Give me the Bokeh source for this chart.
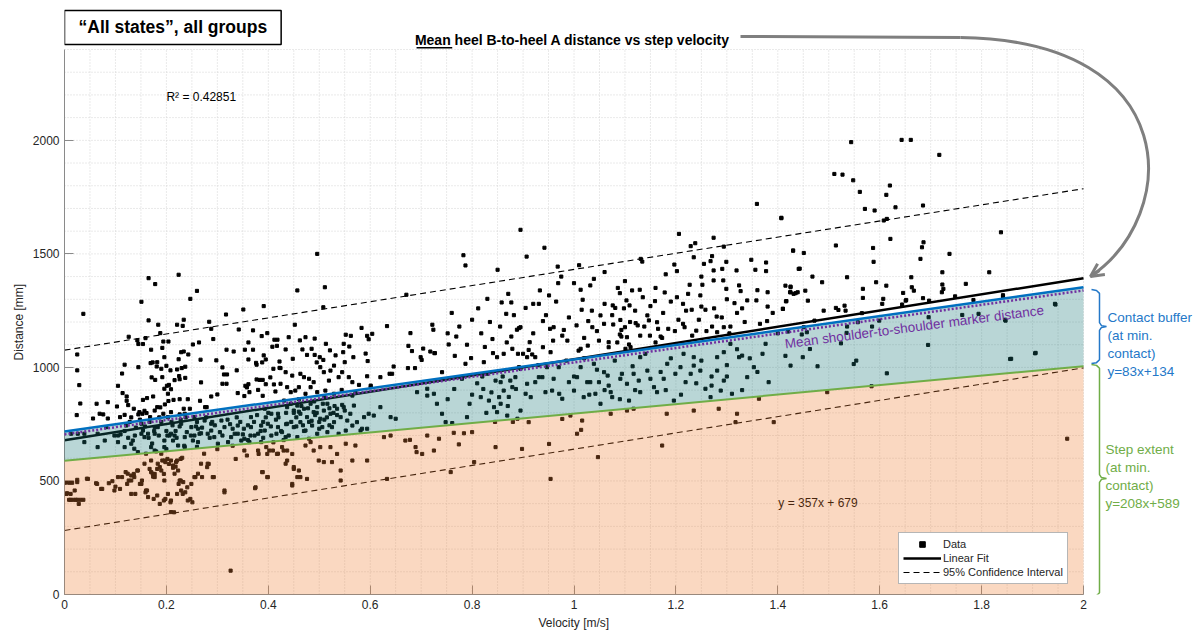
import numpy as np
from bokeh.plotting import figure
from bokeh.models import (Range1d, SingleIntervalTicker, CustomJSTickFormatter, Label, Arrow,
                          OpenHead, Legend, LegendItem, Title)
from bokeh.core.properties import value
from bokeh.embed import file_html
from bokeh.resources import INLINE

# ---------------- data (velocity [m/s], distance [mm]) ----------------
pts_slow_upper = [
    (0.165,1393),(0.224,1408),(0.178,1367),(0.260,1337),(0.247,1302),(0.151,1289),(0.037,1236),(0.317,1233),
    (0.351,1255),(0.391,1270),(0.165,1207),(0.234,1210),(0.184,1188),(0.284,1201),(0.221,1188),(0.232,1183),
    (0.342,1167),(0.370,1163),(0.288,1170),(0.398,1151),(0.126,1135),(0.143,1119),(0.159,1129),(0.188,1151),
    (0.145,1103),(0.154,1103),(0.194,1114),(0.204,1114),(0.264,1110),(0.292,1125),(0.387,1138),(0.412,1122),
    (0.418,1122),(0.025,1057),(0.170,1078),(0.192,1086),(0.229,1067),(0.234,1070),(0.243,1057),(0.252,1101),
    (0.318,1078),(0.332,1070),(0.354,1078),(0.361,1110),(0.370,1078),(0.408,1091),(0.417,1095),(0.391,1053),
    (0.395,1035),(0.361,1035),(0.376,1020),(0.196,1045),(0.224,1036),(0.173,1022),(0.169,1019),(0.182,1023),
    (0.190,994),(0.200,1007),(0.118,1012),(0.145,1001),(0.181,1004),(0.208,987),(0.221,991),(0.230,997),
    (0.237,1003),(0.267,1034),(0.298,1031),(0.310,1000),(0.313,969),(0.319,969),(0.338,987),(0.377,1012),
    (0.388,1022),(0.410,994),(0.422,1026),(0.422,998),(0.025,987),(0.113,973),(0.171,956),(0.178,945),
    (0.192,957),(0.225,962),(0.201,919),(0.196,906),(0.205,923),(0.209,904),(0.216,944),(0.226,948),
    (0.237,954),(0.268,934),(0.310,928),(0.318,928),(0.355,919),(0.361,926),(0.377,947),(0.383,945),
    (0.389,945),(0.395,926),(0.404,956),(0.411,925),(0.029,922),(0.105,919),(0.114,887),(0.122,872),
    (0.122,853),(0.125,834),(0.154,857),(0.162,865),(0.174,872),(0.182,825),(0.188,824),(0.197,837),
    (0.203,884),(0.204,852),(0.214,857),(0.226,860),(0.234,818),(0.242,860),(0.246,818),(0.266,853),
    (0.279,825),(0.276,825),(0.288,872),(0.300,881),(0.340,887),(0.353,874),(0.358,912),(0.363,891),
    (0.380,901),(0.389,875),(0.414,894),(0.031,841),(0.063,840),(0.085,847),(0.103,828),(0.136,818),
    (0.147,803),(0.153,796),(0.157,809),(0.161,799),(0.177,810),(0.024,790),(0.056,775),(0.069,796),
    (0.076,793),(0.085,775),(0.109,781),(0.118,791),(0.131,780),(0.145,793),(0.168,781),(0.194,796),
    (0.209,803),(0.226,793),(0.236,796),
]
pts_slow_band = [
    (0.013,708),(0.026,708),(0.039,671),(0.065,649),(0.079,678),(0.105,671),(0.131,664),(0.137,642),
    (0.154,722),(0.157,693),(0.164,708),(0.170,649),(0.183,737),(0.196,678),(0.209,708),(0.216,700),
    (0.223,656),(0.236,693),(0.249,737),(0.262,671),(0.281,708),(0.288,722),(0.301,664),(0.314,737),
    (0.327,693),(0.340,708),(0.353,686),(0.366,737),(0.380,708),(0.393,722),(0.406,700),(0.419,737),
    (0.406,796),(0.419,796),(0.393,818),(0.386,744),(0.366,781),(0.334,708),(0.308,766),(0.275,766),
    (0.255,781),(0.229,752),(0.203,781),(0.177,737),(0.151,752),(0.134,678),(0.118,649),(0.098,700),
    (0.082,737),(0.144,627),(0.160,620),(0.177,634),(0.196,649),(0.206,700),(0.213,678),(0.236,649),
    (0.252,678),(0.265,708),(0.294,693),(0.321,671),(0.347,678),(0.363,671),(0.373,700),(0.399,752),
    (0.416,708),(0.386,671),(0.340,744),(0.288,752),(0.262,730),(0.177,708),(0.151,708),(0.121,744),
    (0.065,708),(0.039,708),(0.110,705),(0.125,690),(0.140,735),(0.165,690),(0.172,665),(0.185,700),
    (0.190,760),(0.200,720),(0.212,745),(0.220,690),(0.228,770),(0.240,715),(0.255,700),(0.260,760),
    (0.270,735),(0.285,690),(0.295,745),(0.305,715),(0.320,770),(0.330,730),(0.345,760),(0.350,705),
    (0.360,745),(0.372,760),(0.385,720),(0.395,780),(0.405,740),(0.415,770),(0.200,640),(0.180,630),
    (0.235,655),(0.260,650),(0.300,640),(0.330,655),(0.360,680),(0.390,690),(0.410,670),
    (0.105,700),(0.118,720),(0.128,760),(0.138,700),(0.148,770),(0.158,740),(0.167,760),(0.176,720),
    (0.186,780),(0.202,700),(0.210,760),(0.218,720),(0.226,740),(0.238,780),(0.248,700),(0.258,740),
    (0.268,710),(0.278,780),(0.290,760),(0.310,700),(0.325,750),(0.338,780),(0.352,730),(0.365,700),
    (0.378,790),(0.390,760),(0.400,800),(0.420,780),
]
pts_slow_low = [
    (0.003,495),(0.013,495),(0.025,495),(0.004,443),(0.012,417),(0.025,417),(0.037,417),(0.020,458),
    (0.044,510),(0.062,490),(0.072,465),(0.098,458),(0.105,517),(0.124,532),(0.131,502),(0.137,517),
    (0.144,546),(0.157,576),(0.160,458),(0.170,590),(0.173,532),(0.177,517),(0.183,576),(0.190,546),
    (0.196,502),(0.203,443),(0.209,414),(0.216,532),(0.219,583),(0.223,546),(0.226,502),(0.229,458),
    (0.232,443),(0.242,414),(0.249,487),(0.255,517),(0.262,532),(0.268,576),(0.274,620),(0.281,576),
    (0.291,517),(0.314,458),(0.353,634),(0.374,468),(0.380,634),(0.389,539),(0.396,649),(0.399,517),
    (0.402,634),(0.409,634),(0.419,620),(0.209,363),(0.164,429),(0.131,443),(0.151,487),(0.190,620),
    (0.196,590),(0.213,568),(0.001,492),(0.009,492),(0.015,492),(0.025,505),(0.005,446),(0.012,443),
    (0.022,417),(0.031,417),(0.009,417),(0.017,417),(0.028,399),(0.046,509),(0.064,487),(0.074,465),
    (0.087,490),(0.094,499),(0.100,475),(0.109,465),(0.113,517),(0.120,539),(0.123,487),(0.126,502),
    (0.131,524),(0.136,531),(0.139,443),(0.143,546),(0.148,487),(0.152,502),(0.159,450),(0.162,458),
    (0.167,553),(0.170,539),(0.174,519),(0.177,531),(0.182,553),(0.187,561),(0.192,590),(0.195,531),
    (0.198,583),(0.202,597),(0.205,575),(0.209,590),(0.213,558),(0.218,563),(0.221,590),(0.228,597),
    (0.231,602),(0.175,421),(0.182,436),(0.187,399),(0.195,414),(0.198,421),(0.208,406),(0.215,362),
    (0.221,443),(0.224,487),(0.228,502),(0.233,495),(0.237,450),(0.241,472),(0.247,421),(0.251,406),
    (0.257,517),(0.270,517),(0.280,561),(0.283,575),(0.293,517),(0.314,450),(0.326,105),(0.375,472),
    (0.388,539),(0.398,517),(0.381,619),(0.398,619),(0.417,619),(0.430,634),(0.437,590),(0.447,487),
    (0.450,553),(0.457,517),(0.336,597),(0.358,612),
]
pts_mid_upper = [
    (0.496,1500),(0.457,1339),(0.511,1353),(0.508,1265),(0.783,1494),(0.787,1449),(0.850,1430),(0.871,1324),
    (0.858,1286),(0.877,1286),(0.867,1236),(0.830,1302),(0.671,1320),(0.452,1188),(0.583,1174),(0.633,1182),
    (0.722,1188),(0.724,1166),(0.679,1151),(0.769,1136),(0.877,1136),(0.888,1166),(0.892,1173),(0.552,1144),
    (0.562,1139),(0.594,1139),(0.604,1148),(0.597,1124),(0.440,1133),(0.462,1119),(0.473,1133),(0.491,1127),
    (0.513,1104),(0.548,1104),(0.559,1092),(0.675,1095),(0.682,1072),(0.704,1083),(0.718,1070),(0.727,1063),
    (0.754,1101),(0.766,1051),(0.841,1063),(0.879,1082),(0.434,1079),(0.448,1038),(0.467,1079),(0.476,1055),
    (0.485,1082),(0.491,1055),(0.495,1022),(0.501,1045),(0.508,1033),(0.521,1075),(0.532,1053),(0.547,1067),
    (0.550,1023),(0.567,1045),(0.591,1061),(0.595,1028),(0.646,1004),(0.674,997),(0.688,997),(0.699,1045),
    (0.701,1033),(0.726,1063),(0.787,1016),(0.798,1041),(0.823,1023),(0.849,1045),(0.424,997),(0.434,979),
    (0.447,964),(0.463,972),(0.470,957),(0.480,950),(0.489,935),(0.502,1001),(0.509,979),(0.522,986),
    (0.529,1008),(0.538,957),(0.545,979),(0.558,957),(0.565,935),(0.578,923),(0.594,961),(0.601,913),
    (0.620,957),(0.638,972),(0.643,972),(0.741,979),(0.820,960),(0.830,972),(0.846,942),(0.856,935),
    (0.875,942),(0.885,957),(0.892,1001),(0.424,928),(0.437,913),(0.444,891),(0.453,898),(0.460,913),
    (0.473,884),(0.483,913),(0.496,891),(0.512,898),(0.519,942),(0.529,884),(0.544,901),(0.565,876),
    (0.571,891),(0.601,920),(0.692,891),(0.712,906),(0.725,884),
    (0.752,1150),(0.760,1240),(0.775,1180),(0.790,1100),(0.800,1210),(0.812,1260),(0.818,1150),(0.825,1090),
    (0.835,1200),(0.840,1125),(0.855,1180),(0.862,1060),(0.868,1110),(0.882,1230),(0.890,1060),(0.800,880),
    (0.810,930),(0.822,905),(0.838,890),(0.860,960),(0.872,870),(0.886,905),(0.780,950),(0.765,905),
]
pts_mid_band = [
    (0.431,854),(0.437,825),(0.444,840),(0.450,810),(0.457,832),(0.463,796),(0.470,818),(0.476,781),
    (0.483,840),(0.489,803),(0.496,825),(0.502,774),(0.509,810),(0.516,840),(0.522,796),(0.529,759),
    (0.535,818),(0.542,781),(0.548,825),(0.555,766),(0.561,796),(0.568,832),(0.574,759),(0.584,730),
    (0.588,781),(0.597,796),(0.607,788),(0.620,825),(0.640,781),(0.650,774),(0.437,752),(0.450,737),
    (0.463,759),(0.473,722),(0.486,744),(0.496,708),(0.506,737),(0.516,715),(0.525,737),(0.538,708),
    (0.552,722),(0.565,744),(0.581,722),(0.594,730),(0.427,715),(0.434,693),(0.457,693),(0.480,686),
    (0.712,876),(0.731,840),(0.741,796),(0.748,759),(0.761,755),(0.790,781),(0.817,869),(0.833,854),
    (0.843,825),(0.849,803),(0.856,840),(0.869,788),(0.889,774),(0.895,810),(0.879,913),(0.862,898),
    (0.853,869),(0.425,720),(0.435,800),(0.445,760),(0.455,780),(0.460,805),(0.468,745),(0.478,820),
    (0.485,765),(0.492,790),(0.500,760),(0.507,840),(0.515,780),(0.520,820),(0.528,800),(0.535,790),
    (0.545,835),(0.550,810),(0.440,700),(0.470,720),(0.500,730),(0.520,745),(0.430,680),(0.455,740),
    (0.490,850),(0.510,870),(0.460,860),
    (0.435,750),(0.450,800),(0.465,830),(0.480,760),(0.495,800),(0.510,770),(0.530,830),(0.752,860),
    (0.795,840),(0.828,800),(0.845,760),(0.870,830),(0.880,760),
]
pts_mid_low = [
    (0.427,649),(0.437,634),(0.447,619),(0.434,576),(0.450,561),(0.460,546),(0.473,656),(0.483,671),
    (0.489,634),(0.502,649),(0.499,590),(0.509,583),(0.522,649),(0.525,583),(0.535,619),(0.542,546),
    (0.552,664),(0.565,590),(0.571,656),(0.594,590),(0.627,693),(0.640,700),(0.669,678),(0.678,681),
    (0.689,649),(0.691,627),(0.702,619),(0.712,700),(0.725,634),(0.735,686),(0.764,712),(0.774,661),
    (0.784,710),(0.800,715),(0.804,583),(0.846,649),(0.633,509),(0.542,502),(0.758,539),(0.463,517),
    (0.447,480),(0.476,509),
]
pts_fast_upper = [
    (1.359,1720),(1.407,1659),(0.895,1606),(1.206,1588),(1.274,1571),(1.238,1547),(1.229,1534),(0.942,1527),
    (1.294,1532),(0.907,1488),(1.131,1478),(1.134,1466),(1.235,1485),(1.271,1490),(1.268,1468),(1.197,1453),
    (1.255,1456),(1.299,1465),(1.348,1474),(1.377,1462),(0.968,1444),(1.202,1424),(1.274,1427),(1.291,1434),
    (1.319,1427),(1.356,1430),(1.377,1424),(1.430,1515),(1.441,1434),(1.000,1371),(0.969,1371),(1.039,1390),
    (1.032,1361),(1.274,1383),(1.293,1383),(1.227,1364),(1.252,1364),(1.324,1361),(1.425,1356),(0.933,1339),
    (1.013,1342),(1.086,1350),(1.090,1327),(1.114,1339),(1.129,1342),(1.178,1330),(1.224,1324),(1.248,1317),
    (1.299,1346),(1.327,1336),(1.380,1331),(1.424,1331),(1.435,1327),(0.951,1317),(1.017,1298),(1.103,1295),
    (1.135,1309),(1.159,1292),(1.202,1309),(1.315,1283),(1.340,1295),(1.358,1295),(1.417,1292),(0.905,1262),
    (0.920,1280),(0.931,1280),(1.015,1254),(1.076,1273),(1.081,1262),(1.109,1273),(1.214,1280),(1.231,1254),
    (1.250,1268),(1.258,1254),(1.280,1224),(1.380,1268),(1.410,1258),(0.895,1177),(0.939,1204),(0.953,1170),
    (0.960,1177),(0.980,1165),(1.028,1204),(1.052,1229),(1.036,1177),(1.059,1192),(1.077,1189),(1.091,1209),
    (1.093,1165),(1.100,1177),(1.121,1195),(1.125,1185),(1.144,1229),(1.147,1207),(1.163,1199),(1.165,1170),
    (1.149,1140),(1.214,1192),(1.217,1177),(1.240,1162),(1.271,1180),(1.294,1177),(1.307,1180),(1.365,1192),
    (1.379,1204),(0.913,1111),(0.911,1077),(0.939,1089),(0.959,1118),(0.977,1140),(0.987,1118),(1.009,1074),
    (1.027,1096),(1.049,1118),(1.068,1111),(1.090,1145),(1.093,1136),(1.104,1133),(1.111,1089),(1.130,1140),
    (1.170,1136),(1.173,1130),(1.198,1160),(1.281,1155),(0.900,1060),(0.918,1057),(0.924,1045),(0.954,1067),
    (1.013,1082),(1.068,1089),(1.101,1082),(1.108,1101),
    (1.005,1185),(1.020,1130),(1.035,1250),(1.045,1160),(1.060,1280),(1.075,1230),(1.085,1110),(1.098,1260),
    (1.110,1200),(1.120,1250),(1.138,1180),(1.150,1270),(1.160,1110),(1.175,1240),(1.185,1170),(1.190,1290),
    (1.205,1210),(1.220,1250),(1.232,1140),(1.245,1210),(1.260,1160),(1.275,1260),(1.290,1220),(1.305,1150),
    (1.320,1240),(1.335,1200),(0.920,1150),(0.945,1230),(0.965,1290),(0.990,1220),(0.975,1400),(1.010,1450),
    (1.060,1420),(1.100,1380),(1.160,1350),(1.180,1410),(1.250,1400),(1.300,1300),(1.330,1260),(1.360,1340),
    (1.390,1240),(1.400,1150),
]
pts_fast_band = [
    (0.895,994),(0.908,928),(0.924,935),(0.931,957),(0.938,957),(0.947,1001),(0.905,884),(0.915,869),
    (0.944,891),(0.957,898),(0.971,884),(0.977,862),(0.990,935),(1.000,898),(1.006,957),(1.013,1001),
    (1.019,869),(1.026,935),(1.032,935),(1.042,884),(1.049,935),(1.052,840),(1.059,979),(1.066,964),
    (1.068,920),(1.072,891),(1.075,869),(1.091,950),(1.094,972),(1.104,928),(1.108,854),(1.117,972),
    (1.127,942),(1.130,891),(1.144,986),(1.157,913),(1.163,891),(1.176,950),(1.183,1016),(1.196,854),
    (1.199,972),(1.209,1001),(1.219,935),(1.229,972),(1.235,1008),(1.248,986),(1.258,906),(1.268,869),
    (1.281,986),(1.288,898),(1.294,942),(1.310,884),(1.324,1045),(1.330,1052),(1.340,957),(1.353,1001),
    (1.382,935),(1.425,1008),(0.908,1045),(0.970,1001),(1.039,1016),(1.130,1045),(1.235,1045),(1.281,1045),
    (1.294,1067),(1.307,1104),(1.376,1104),
    (1.020,1040),(1.045,990),(1.080,1030),(1.115,1005),(1.140,1060),(1.170,980),(1.190,1040),(1.215,1060),
    (1.250,1030),(1.270,960),(1.300,1010),(1.320,1080),(1.345,1040),(1.000,960),(1.030,880),(1.060,900),
    (1.090,860),(1.120,900),(1.150,950),(1.180,900),(1.210,880),(1.240,930),(1.270,920),(1.300,960),
    (1.330,900),(1.360,980),(0.930,1010),(0.960,950),(0.985,1030),(1.370,1060),
]
pts_fast_low = [
    (0.911,759),(0.951,663),(0.977,773),(0.993,788),(1.016,766),(1.014,725),(1.072,796),(1.104,810),
    (1.117,818),(1.182,796),(1.235,810),(1.284,818),(1.320,796),(1.317,759),(1.363,862),(1.392,759),
    (1.173,656),(1.047,605),(0.954,509),(1.006,708),(0.898,641),
]
pts_fastest = [
    (1.544,1992),(1.643,2002),(1.661,2002),(1.717,1936),(1.511,1852),(1.527,1849),(1.548,1824),(1.561,1773),
    (1.620,1801),(1.613,1760),(1.571,1698),(1.590,1691),(1.631,1705),(1.685,1713),(1.614,1654),(1.608,1647),
    (1.407,1657),(1.838,1595),(1.621,1566),(1.514,1537),(1.587,1526),(1.686,1551),(1.683,1529),(1.430,1514),
    (1.451,1504),(1.588,1465),(1.680,1478),(1.737,1500),(1.443,1435),(1.468,1400),(1.487,1375),(1.536,1397),
    (1.593,1375),(1.662,1397),(1.723,1419),(1.815,1419),(1.415,1360),(1.425,1353),(1.425,1331),(1.431,1324),
    (1.439,1331),(1.454,1338),(1.416,1291),(1.459,1294),(1.410,1258),(1.567,1346),(1.567,1306),(1.613,1360),
    (1.646,1328),(1.652,1297),(1.663,1353),(1.667,1338),(1.685,1305),(1.723,1365),(1.725,1346),(1.722,1331),
    (1.769,1368),(1.748,1313),(1.784,1297),(1.842,1312),(1.490,1250),(1.514,1262),(1.519,1253),(1.531,1272),
    (1.533,1250),(1.565,1239),(1.605,1280),(1.607,1302),(1.644,1277),(1.651,1294),(1.697,1294),(1.472,1206),
    (1.599,1206),(1.420,1158),(1.451,1177),(1.457,1155),(1.447,1145),(1.536,1180),(1.535,1152),(1.524,1106),
    (1.557,1199),(1.585,1180),(1.696,1221),(1.762,1231),(1.794,1236),(1.847,1206),(1.945,1277),(1.463,1081),
    (1.415,1051),(1.449,1045),(1.478,1005),(1.549,1015),(1.554,1030),(1.695,1099),(1.614,974),(1.856,1037),
    (1.905,1062),(1.497,891),(1.584,917),(1.968,686),(1.842,1318),(1.944,1280),(1.846,1210),(1.858,1038),
    (1.906,1064),
]

line_x = [0.0, 2.0]
fit_y = [679, 1393]          # y = 357x + 679
ci_upper = [1076, 1787]
ci_lower = [282, 998]
step_extent = [589, 1005]    # y = 208x + 589
contact_top = [718, 1353]
shoulder = [705, 1339]

x_limits = (0.0, 2.0)
y_limits = (0, 2400)
x_tick_step, x_minor_step = 0.2, 0.05
y_tick_step, y_minor_step = 500, 100

FONT = "Liberation Sans"
ORANGE = "#ED7D31"
TEAL = "#167676"
GREEN = "#70AD47"
BLUE = "#0070C0"
BLUE_TXT = "#2478C8"
PURPLE = "#7030A0"
GRAY_ARROW = "#7f7f7f"
AX_TXT = "#262626"

points = (pts_slow_upper + pts_slow_band + pts_slow_low + pts_mid_upper + pts_mid_band +
          pts_mid_low + pts_fast_upper + pts_fast_band + pts_fast_low + pts_fastest)
velocity = [pt[0] for pt in points]
distance = [pt[1] for pt in points]

# Canvas layout: the axes box is 1019 x 545 px at (64, 49); the frame is widened to the right
# and upward so the notes drawn around the axes box are not clipped.
W, H = 1200, 632
BOX_L, BOX_R, BOX_T, BOX_B = 64, 1083, 49, 594
px_per_x = (BOX_R - BOX_L) / (x_limits[1] - x_limits[0])
px_per_y = (BOX_B - BOX_T) / (y_limits[1] - y_limits[0])
x_end = x_limits[0] + (W - BOX_L) / px_per_x
y_end = y_limits[0] + BOX_B / px_per_y

p = figure(width=W, height=H, x_range=Range1d(x_limits[0], x_end), y_range=Range1d(y_limits[0], y_end),
           output_backend="svg", toolbar_location=None,
           min_border_left=BOX_L, min_border_right=0, min_border_top=0, min_border_bottom=H - BOX_B)
p.outline_line_color = None
p.background_fill_color = "white"
p.border_fill_color = "white"
p.xgrid.visible = False
p.ygrid.visible = False

p.xaxis.ticker = SingleIntervalTicker(interval=x_tick_step, num_minor_ticks=4)
p.yaxis.ticker = SingleIntervalTicker(interval=y_tick_step, num_minor_ticks=5)
p.xaxis.bounds = x_limits
p.yaxis.bounds = y_limits
p.xaxis.formatter = CustomJSTickFormatter(code="return Number(tick.toFixed(2)).toString();")
for ax in (p.xaxis[0], p.yaxis[0]):
    ax.axis_line_color = "#8a8a8a"
    ax.major_tick_line_color = "#8a8a8a"
    ax.major_tick_in = 9
    ax.major_tick_out = 0
    ax.minor_tick_line_color = None
    ax.major_label_text_font = FONT
    ax.major_label_text_font_size = "12px"
    ax.major_label_text_color = AX_TXT
p.xaxis.major_label_standoff = 1
p.yaxis.major_label_standoff = 1

# axis titles, centred on the axes box (not on the widened frame): left-aligned with an offset
xlab_w = 71      # approx. rendered width of "Velocity [m/s]" at 12px
ylab_w = 77      # approx. rendered width of "Distance [mm]" at 12px
p.add_layout(Title(text="Velocity [m/s]", align="left",
                   offset=(BOX_L + BOX_R) / 2 - xlab_w / 2 - BOX_L,
                   text_font=FONT, text_font_size="12px", text_font_style="normal",
                   text_color=AX_TXT, standoff=4), "below")
p.add_layout(Title(text="Distance [mm]", align="left",
                   offset=BOX_B - ((BOX_T + BOX_B) / 2 + ylab_w / 2),
                   text_font=FONT, text_font_size="12px", text_font_style="normal",
                   text_color=AX_TXT, standoff=8), "left")

# ---- grid inside the axes box (dotted, MATLAB style) ----
gx_minor = np.arange(x_limits[0], x_limits[1] + 1e-9, x_minor_step)
gy_minor = np.arange(y_limits[0], y_limits[1] + 1e-9, y_minor_step)
p.segment(x0=gx_minor, y0=y_limits[0], x1=gx_minor, y1=y_limits[1], line_color="#d4d4d4",
          line_width=1, line_dash="1 2")
p.segment(x0=x_limits[0], y0=gy_minor, x1=x_limits[1], y1=gy_minor, line_color="#d4d4d4",
          line_width=1, line_dash="1 2")

# ---- MATLAB layer ----
sc = p.scatter(velocity, distance, marker="square", size=3.1, color="black")
fit_r = p.line(line_x, fit_y, line_color="black", line_width=2.5)
ci_r = p.line(line_x, ci_upper, line_color="black", line_width=1.1, line_dash="6 4")
p.line(line_x, ci_lower, line_color="black", line_width=1.1, line_dash="6 4")
p.text(x=[0.2], y=[2189], text=["R² = 0.42851"], text_font=value(FONT), text_font_size=value("12px"),
       text_color="black", text_align="left", text_baseline="middle")
p.text(x=[1.401], y=[401], text=["y = 357x + 679"], text_font=value(FONT), text_font_size=value("12px"),
       text_color="black", text_align="left", text_baseline="middle")

legend = Legend(items=[LegendItem(label="Data", renderers=[sc]),
                       LegendItem(label="Linear Fit", renderers=[fit_r]),
                       LegendItem(label="95% Confidence Interval", renderers=[ci_r])],
                location=(834, 10))
legend.label_text_font = FONT
legend.label_text_font_size = "11px"
legend.label_text_color = AX_TXT
legend.border_line_color = "#6e6e6e"
legend.border_line_width = 1
legend.background_fill_color = "white"
legend.background_fill_alpha = 1.0
legend.glyph_width = 38
legend.glyph_height = 14
legend.label_height = 14
legend.label_standoff = 2
legend.padding = 4
legend.spacing = 0
legend.margin = 0
p.add_layout(legend)

# ---- overlay layer (semi-transparent bands drawn over the plot) ----
p.varea(x=line_x, y1=[0, 0], y2=step_extent, fill_color=ORANGE, fill_alpha=0.3, level="overlay")
p.varea(x=line_x, y1=step_extent, y2=contact_top, fill_color=TEAL, fill_alpha=0.3, level="overlay")
p.line(line_x, step_extent, line_color=GREEN, line_width=2, level="overlay")
p.line(line_x, contact_top, line_color=BLUE, line_width=2.5, level="overlay")
p.line(line_x, shoulder, line_color=PURPLE, line_width=2.5, line_dash="2 2", level="overlay")
p.text(x=[1.668], y=[1178], text=["Mean shoulder-to-shoulder marker distance"], angle=0.13,
       text_font=value(FONT), text_font_size=value("13.5px"), text_color=PURPLE,
       text_align="center", text_baseline="middle", level="overlay")

# ---- titles ----
p.add_layout(Label(x=0.0, y=2572, text="\u201cAll states\u201d, all groups", text_font=FONT,
                   text_font_size="17.5px", text_font_style="bold", text_color="black",
                   text_align="left", text_baseline="top",
                   border_line_color="black", border_line_width=1.5,
                   background_fill_color="white", padding=dict(x=14, y=7)))
p.add_layout(Label(x=0.997, y=2444, text="Mean heel B-to-heel A distance vs step velocity",
                   text_font=FONT, text_font_size="14px", text_font_style="bold", text_color="black",
                   text_align="center", text_baseline="middle"))
p.line([0.691, 0.761], [2408, 2408], line_color="black", line_width=1.5)

# ---- curved gray arrow from the title to the end of the fit line ----
p.line([1.3268, 1.7586], [2457.3, 2452.9], line_color=GRAY_ARROW, line_width=3)
p.bezier(x0=[1.7586], y0=[2452.9], cx0=[2.2002], cy0=[2439.6], cx1=[2.1904], cy1=[1669.0],
         x1=[2.0137], y1=[1400.4], line_color=GRAY_ARROW, line_width=3)
p.add_layout(Arrow(end=OpenHead(size=13, line_color=GRAY_ARROW, line_width=3),
                   x_start=2.0314, y_start=1427.3, x_end=2.0137, y_end=1400.4,
                   line_color=GRAY_ARROW, line_width=3))

# ---- braces and side notes ----
def brace(y_top, y_bot, y_tip, color):
    xh, xm, xs, xq, xt = 2.0157, 2.0255, 2.0314, 2.0353, 2.0451
    r = 17
    bx = [xh, xm, xs, xs, xq, xt, xq, xs, xs, xm, xh]
    by = [y_top, y_top - 4, y_top - r, y_tip + r, y_tip + 4, y_tip, y_tip - 4, y_tip - r, y_bot + r, y_bot + 4, y_bot]
    p.line(bx, by, line_color=color, line_width=1.5)

brace(1343, 1017, 1180, BLUE_TXT)
brace(1013, -9, 511, GREEN)

blue_lines = ["Contact buffer", "(at min.", "contact)", "y=83x+134"]
blue_y = [1220, 1141, 1061, 982]
green_lines = ["Step extent", "(at min.", "contact)", "y=208x+589"]
green_y = [639, 559, 480, 401]
p.text(x=[2.047] * 4, y=blue_y, text=blue_lines, text_font=value(FONT), text_font_size=value("13.5px"),
       text_color=BLUE_TXT, text_align="left", text_baseline="middle")
p.text(x=[2.043] * 4, y=green_y, text=green_lines, text_font=value(FONT), text_font_size=value("13.5px"),
       text_color=GREEN, text_align="left", text_baseline="middle")

open("out.html", "w").write(file_html(p, INLINE))
